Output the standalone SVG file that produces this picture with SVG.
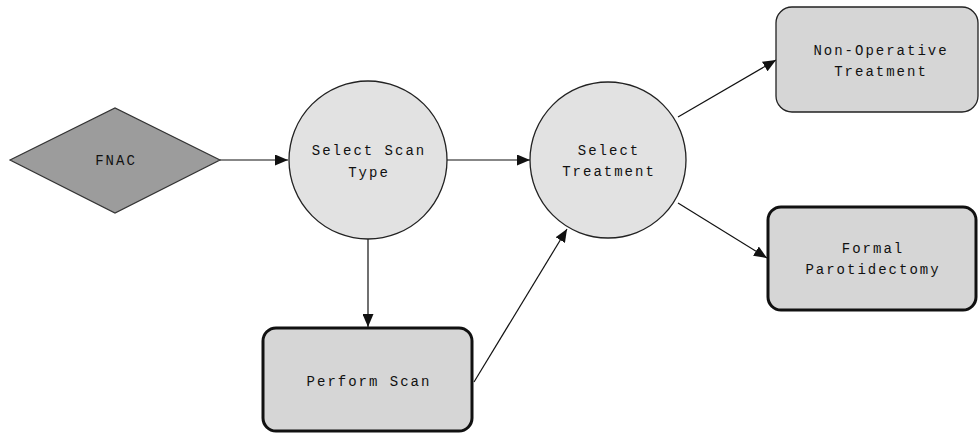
<svg xmlns="http://www.w3.org/2000/svg" width="979" height="435" viewBox="0 0 979 435">
<style>
text{font-family:"Liberation Mono","Courier New",monospace;font-size:14px;fill:#111;text-anchor:middle;letter-spacing:2px}
.circ{fill:#e2e2e2;stroke:#222;stroke-width:1.3}
.thin{fill:#d6d6d6;stroke:#222;stroke-width:1.3}
.thick{fill:#d6d6d6;stroke:#111;stroke-width:3}
.edge{stroke:#111;stroke-width:1.2;fill:none;marker-end:url(#ah)}
</style>
<defs>
<marker id="ah" viewBox="0 0 13 11" refX="13" refY="5.5" markerWidth="13" markerHeight="11" markerUnits="userSpaceOnUse" orient="auto">
<path d="M0,0 L13,5.5 L0,11 Z" fill="#111"/>
</marker>
</defs>
<rect width="979" height="435" fill="#fff"/>
<g id="connectors">
<line class="edge" x1="220" y1="160" x2="288" y2="160"/>
<line class="edge" x1="447" y1="160" x2="530" y2="160"/>
<line class="edge" x1="368" y1="239" x2="368" y2="327"/>
<line class="edge" x1="474" y1="382" x2="567" y2="229"/>
<line class="edge" x1="678" y1="117" x2="776" y2="60"/>
<line class="edge" x1="678" y1="203" x2="767" y2="258"/>
</g>
<g id="fnac">
<polygon points="10,160 115,108 220,160 115,213" fill="#9c9c9c" stroke="#333" stroke-width="1.2"/>
<text x="116" y="165">FNAC</text>
</g>
<g id="select-scan">
<circle class="circ" cx="368" cy="160" r="79"/>
<text x="369" y="155">Select Scan</text>
<text x="369" y="177">Type</text>
</g>
<g id="select-treatment">
<circle class="circ" cx="608" cy="160" r="78"/>
<text x="609" y="155">Select</text>
<text x="609" y="176">Treatment</text>
</g>
<g id="non-operative">
<rect class="thin" x="776" y="7" width="202" height="105" rx="16"/>
<text x="881" y="55">Non-Operative</text>
<text x="881" y="76">Treatment</text>
</g>
<g id="formal">
<rect class="thick" x="768" y="207" width="208" height="103" rx="13"/>
<text x="873" y="253">Formal</text>
<text x="873" y="274">Parotidectomy</text>
</g>
<g id="perform-scan">
<rect class="thick" x="263" y="328" width="209" height="103" rx="13"/>
<text x="369" y="386">Perform Scan</text>
</g>
</svg>
